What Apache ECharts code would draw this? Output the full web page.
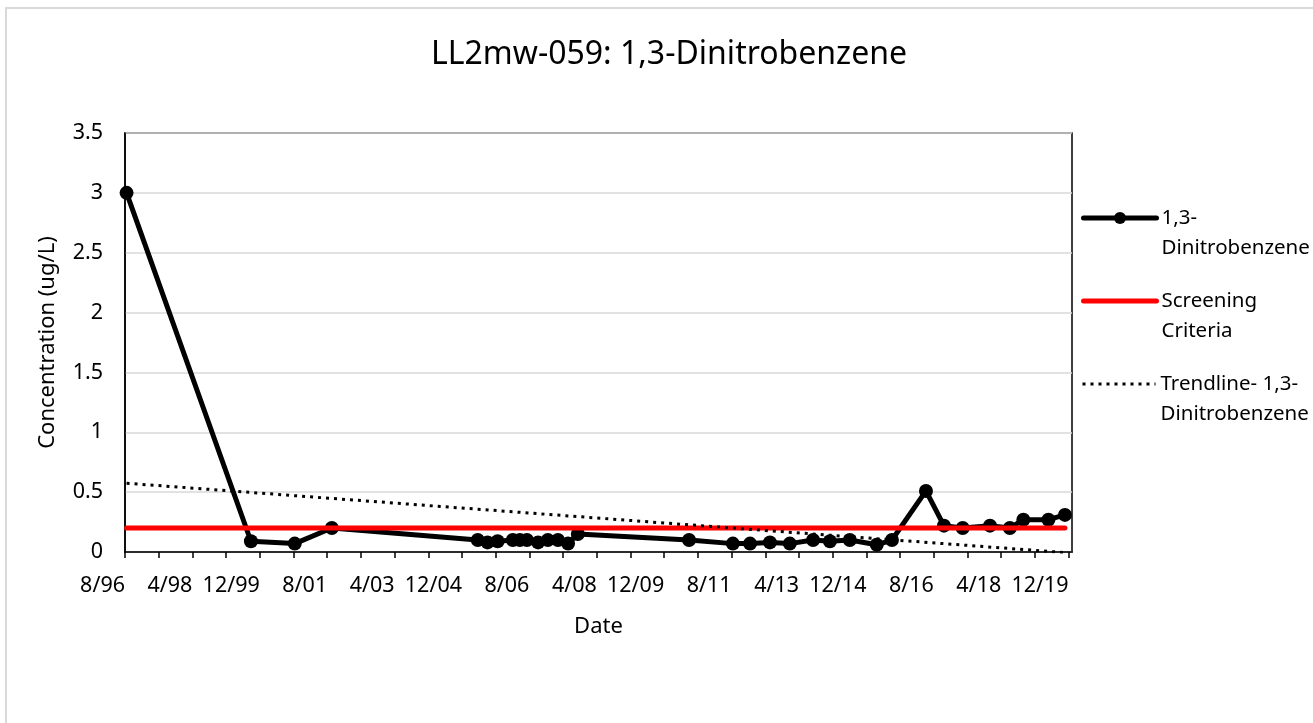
<!DOCTYPE html>
<html>
<head>
<meta charset="utf-8">
<script src="https://cdn.jsdelivr.net/npm/echarts@6/dist/echarts.min.js"></script>
<style>
html,body{margin:0;padding:0;background:#fff;}
#c{width:1313px;height:723px;}
</style>
</head>
<body>
<div id="c"></div>
<script>
// ---- data ----
const chartTitle = 'LL2mw-059: 1,3-Dinitrobenzene';
const seriesName = '1,3-Dinitrobenzene';
const sampleDates = [
  '1996-08-15','1999-09-12','2000-10-12','2001-09-12',
  '2005-04-21','2005-07-18','2005-10-18',
  '2006-03-03','2006-05-06','2006-07-09','2006-10-18',
  '2007-01-15','2007-04-15','2007-07-15','2007-10-12',
  '2010-07-12','2011-08-12','2012-01-15','2012-07-12',
  '2013-01-09','2013-08-06','2014-01-06','2014-07-03',
  '2015-03-03','2015-07-18','2016-05-21','2016-11-01',
  '2017-04-18','2017-12-21','2018-06-18','2018-10-18',
  '2019-06-01','2019-10-28'
];
const concentrations = [
  3.0, 0.09, 0.07, 0.2,
  0.1, 0.08, 0.09,
  0.1, 0.1, 0.1, 0.08,
  0.1, 0.1, 0.07, 0.15,
  0.1, 0.07, 0.07, 0.08,
  0.07, 0.1, 0.09, 0.1,
  0.06, 0.1, 0.51, 0.22,
  0.2, 0.22, 0.2, 0.27,
  0.27, 0.31
];
const screeningCriteria = 0.2;
const xTickLabels = ['8/96','4/98','12/99','8/01','4/03','12/04','8/06','4/08','12/09','8/11','4/13','12/14','8/16','4/18','12/19'];
const axisStartMonths = 0;   // 8/96
const axisEndMonths = 281;   // ~1/20
const yMax = 3.5, yStep = 0.5;

// ---- helpers ----
function toMonths(s){
  const p = s.split('-').map(Number);
  return (p[0]-1996)*12 + (p[1]-8) + (p[2]-1)/30;
}
const xs = sampleDates.map(toMonths);
const mainData = xs.map((x,i)=>[x, concentrations[i]]);
const screenData = [[xs[0], screeningCriteria],[xs[xs.length-1], screeningCriteria]];
// linear trendline (least squares)
const n = xs.length;
const mx = xs.reduce((a,b)=>a+b,0)/n;
const my = concentrations.reduce((a,b)=>a+b,0)/n;
let sxy=0, sxx=0;
for(let i=0;i<n;i++){ sxy+=(xs[i]-mx)*(concentrations[i]-my); sxx+=(xs[i]-mx)**2; }
const slope = sxy/sxx, icpt = my - slope*mx;
const trendData = [[xs[0], icpt+slope*xs[0]],[xs[n-1], icpt+slope*xs[n-1]]];

const FONT = '"Noto Sans", "Open Sans", sans-serif';
const chart = echarts.init(document.getElementById('c'), null, {renderer:'canvas'});
const legendText = {fontFamily: FONT, fontSize: 20.5, color:'#000', lineHeight: 30};
function legendAt(item, top, label, lineStyle){
  return {
    data:[item], left:1081, top: top, orient:'vertical',
    itemWidth:73, itemHeight:15, itemGap:0, padding:0,
    textStyle: legendText,
    lineStyle: lineStyle,
    formatter: ()=>'\n' + label
  };
}
chart.setOption({
  animation:false,
  backgroundColor:'#fff',
  title:{
    text: chartTitle, left:664, top:34, textAlign:'center',
    textStyle:{fontFamily:FONT, fontSize:32, fontWeight:'normal', color:'#000'}
  },
  graphic:[
    {type:'line', shape:{x1:6, y1:8, x2:6, y2:723}, style:{stroke:'#d9d9d9', lineWidth:2}, silent:true},
    {type:'line', shape:{x1:5, y1:8, x2:1313, y2:8}, style:{stroke:'#d9d9d9', lineWidth:2}, silent:true}
  ],
  legend:[
    legendAt({name:seriesName}, 173, '1,3-\nDinitrobenzene', {width:5, color:'#000', cap:'round'}),
    legendAt({name:'Screening Criteria', itemStyle:{color:'rgba(0,0,0,0)', borderWidth:0}}, 256, 'Screening\nCriteria', {width:5, color:'#ff0000', cap:'round'}),
    legendAt({name:'Trendline- 1,3-Dinitrobenzene', itemStyle:{color:'rgba(0,0,0,0)', borderWidth:0}}, 339, 'Trendline- 1,3-\nDinitrobenzene', {width:3, color:'#000', type:[3,5]})
  ],
  grid:{left:125, top:133, width:947, height:419, show:true, borderColor:'#000', borderWidth:1.5, backgroundColor:'transparent'},
  xAxis:{
    type:'value', min:axisStartMonths, max:axisEndMonths, interval:10,
    name:'Date', nameLocation:'middle', nameGap:64,
    nameTextStyle:{fontFamily:FONT, fontSize:22, color:'#000'},
    axisLine:{show:true, lineStyle:{color:'#000', width:1.5}},
    axisTick:{show:true, length:6, lineStyle:{color:'#000', width:1.5}},
    splitLine:{show:false},
    axisLabel:{
      fontFamily:FONT, fontSize:21.5, color:'#000', margin:23, align:'right',
      showMaxLabel:false,
      formatter:(v)=> (Math.abs(v%20)<1e-6 && v/20 < xTickLabels.length) ? xTickLabels[Math.round(v/20)] : ''
    }
  },
  yAxis:{
    type:'value', min:0, max:yMax, interval:yStep,
    name:'Concentration (ug/L)', nameLocation:'middle', nameGap:66, nameRotate:90,
    nameTextStyle:{fontFamily:FONT, fontSize:22, color:'#000'},
    axisLine:{show:true, lineStyle:{color:'#000', width:1.5}},
    axisTick:{show:false},
    splitLine:{show:true, lineStyle:{color:'#d9d9d9', width:1.5}},
    axisLabel:{fontFamily:FONT, fontSize:21.5, color:'#000', margin:22}
  },
  series:[
    {
      name: seriesName, type:'line', data: mainData,
      symbol:'circle', symbolSize:14, showSymbol:true,
      lineStyle:{color:'#000', width:5, cap:'round', join:'round'},
      itemStyle:{color:'#000'}, z:2
    },
    {
      name:'Screening Criteria', type:'line', data: screenData,
      symbol:'none', lineStyle:{color:'#ff0000', width:5, cap:'round'},
      itemStyle:{color:'#ff0000'}, z:3
    },
    {
      name:'Trendline- 1,3-Dinitrobenzene', type:'line', data: trendData,
      symbol:'none', lineStyle:{color:'#000', width:3, type:[3,5]},
      itemStyle:{color:'#000'}, z:4
    }
  ]
});
</script>
</body>
</html>
